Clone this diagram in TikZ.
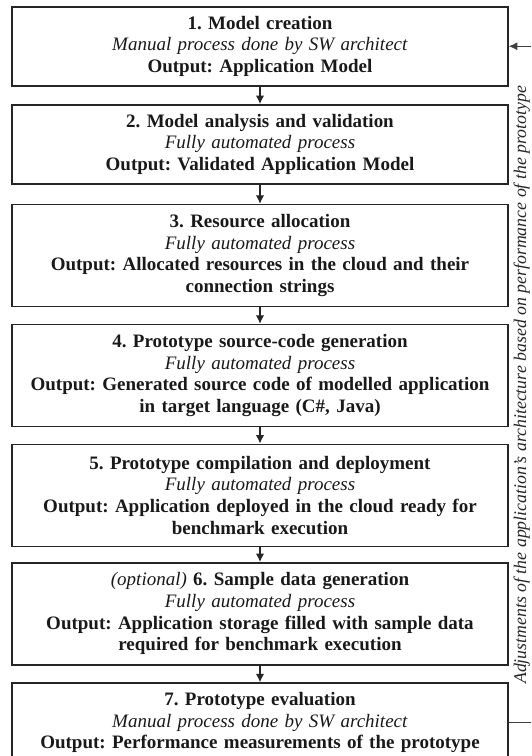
\documentclass[tikz,border=0pt]{standalone}
\usepackage{fontspec}
\setmainfont{Liberation Serif}
\frenchspacing
\usetikzlibrary{arrows.meta}
\begin{document}
\begin{tikzpicture}[x=1pt,y=-1pt,
  box/.style={draw=black!85, line width=1.5pt, minimum width=496pt, text width=480pt,
    align=center, inner sep=0pt, font=\fontsize{19}{21.7}\selectfont, text=black!90},
  box3/.style={box, minimum height=79pt},
  box4/.style={box, minimum height=102pt},
  arr/.style={draw=black!85, line width=1.2pt, -{Latex[length=8.5pt,width=8.5pt]}},
  loop/.style={draw=black!75, line width=1.1pt, -{Latex[length=8.5pt,width=8pt]}},
  side/.style={font=\itshape\fontsize{17.8}{21.7}\selectfont, text=black!85, inner sep=0pt}]
\clip (0,0) rectangle (531,756);
\node[box3] (b1) at (260,46.25) {\textbf{1. Model creation}\\\textit{Manual process done by SW architect}\\\textbf{Output: Application Model}};
\node[box3] (b2) at (260,144.25) {\textbf{2. Model analysis and validation}\\\textit{Fully automated process}\\\textbf{Output: Validated Application Model}};
\node[box4] (b3) at (260,255.5) {\textbf{3. Resource allocation}\\\textit{Fully automated process}\\\textbf{Output: Allocated resources in the cloud and their}\\\textbf{connection strings}};
\node[box4] (b4) at (260,375.5) {\textbf{4. Prototype source-code generation}\\\textit{Fully automated process}\\\textbf{Output: Generated source code of modelled application}\\\textbf{in target language (C\#, Java)}};
\node[box4] (b5) at (260,495.25) {\textbf{5. Prototype compilation and deployment}\\\textit{Fully automated process}\\\textbf{Output: Application deployed in the cloud ready for}\\\textbf{benchmark execution}};
\node[box4] (b6) at (260,613.75) {\textit{(optional)} \textbf{6. Sample data generation}\\\textit{Fully automated process}\\\textbf{Output: Application storage filled with sample data}\\\textbf{required for benchmark execution}};
\node[box3] (b7) at (260,722.5) {\textbf{7. Prototype evaluation}\\\textit{Manual process done by SW architect}\\\textbf{Output: Performance measurements of the prototype}};
\draw[arr] (b1) -- (b2);
\draw[arr] (b2) -- (b3);
\draw[arr] (b3) -- (b4);
\draw[arr] (b4) -- (b5);
\draw[arr] (b5) -- (b6);
\draw[arr] (b6) -- (b7);
\draw[loop] (b7.east) -- ++(40,0) |- (b1.east);
\node[side, rotate=90, anchor=base west] (fb) at (526,684) {Adjustments of the application’s architecture based on performance of the prototype};
\end{tikzpicture}
\end{document}
